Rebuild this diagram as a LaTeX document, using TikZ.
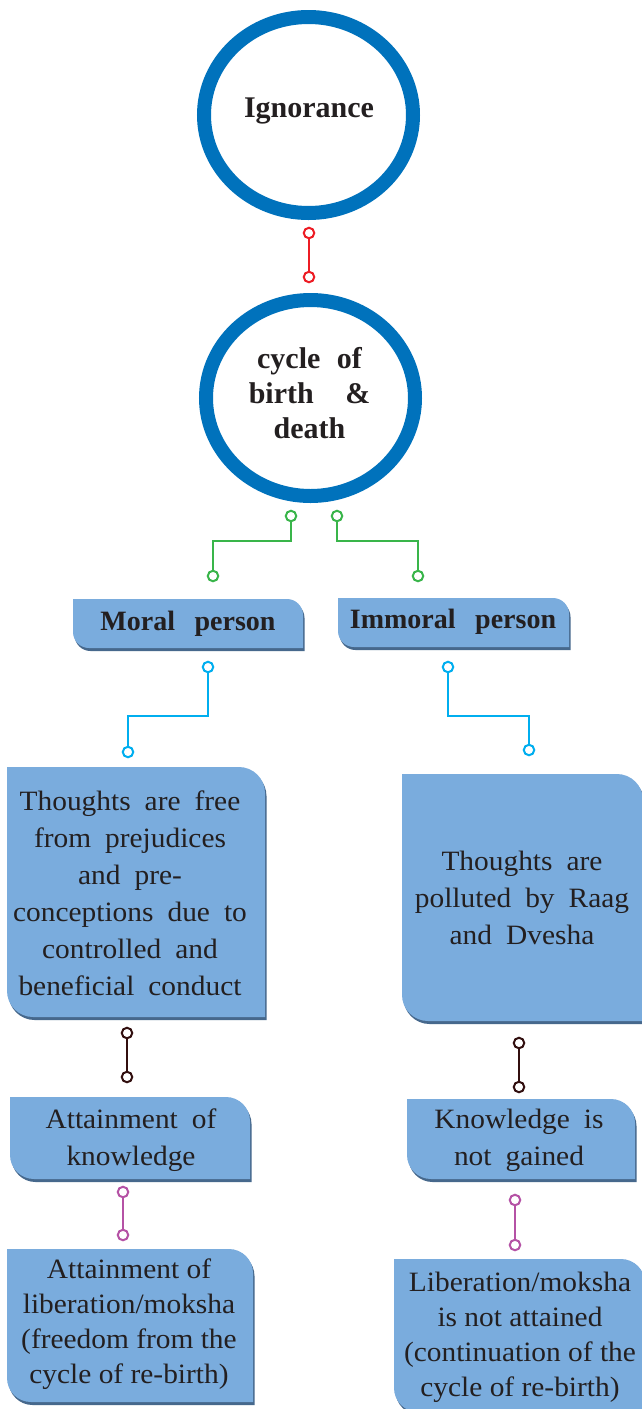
\documentclass[tikz,border=0pt]{standalone}
\usepackage{fontspec}
\setmainfont{Liberation Serif}
\newfontfamily\bodyfont[FakeStretch=1.05]{Liberation Serif}
\usetikzlibrary{calc}
\definecolor{ringblue}{RGB}{0,114,188}
\definecolor{boxfill}{RGB}{122,172,221}
\definecolor{boxshade}{RGB}{70,104,140}
\definecolor{txt}{RGB}{35,31,32}
\definecolor{cred}{RGB}{237,28,36}
\definecolor{cgreen}{RGB}{57,181,74}
\definecolor{ccyan}{RGB}{0,174,239}
\definecolor{cdark}{RGB}{50,15,15}
\definecolor{cmag}{RGB}{181,82,165}
\protected\def\wideheadsp{\spaceskip=0.7em\relax}
\protected\def\widebodysp{\spaceskip=0.5em\relax}
\newcommand{\bluebox}[5]{%
 \fill[boxshade,shift={(1.5,3)}] (#1,#2) -- ({#3-#5},#2) .. controls ({#3-0.45*#5},#2) and (#3,{#2+0.45*#5}) .. (#3,{#2+#5}) -- (#3,#4) -- ({#1+#5},#4) .. controls ({#1+0.45*#5},#4) and (#1,{#4-0.45*#5}) .. (#1,{#4-#5}) -- cycle;
 \fill[boxfill] (#1,#2) -- ({#3-#5},#2) .. controls ({#3-0.45*#5},#2) and (#3,{#2+0.45*#5}) .. (#3,{#2+#5}) -- (#3,#4) -- ({#1+#5},#4) .. controls ({#1+0.45*#5},#4) and (#1,{#4-0.45*#5}) .. (#1,{#4-#5}) -- cycle;
}
\tikzset{
 ring/.style={draw=ringblue, line width=14pt},
 boldtxt/.style={font=\bfseries\fontsize{30}{35}\selectfont, text=txt, align=center, inner sep=0pt},
 headtxt/.style={font=\bfseries\fontsize{28}{32}\selectfont\wideheadsp, text=txt, align=center, inner sep=0pt},
 widetxt/.style={font=\bodyfont\fontsize{28}{37}\selectfont\widebodysp, text=txt, align=center, inner sep=0pt},
 normtxt/.style={font=\bodyfont\fontsize{28}{35}\selectfont, text=txt, align=center, inner sep=0pt},
 endring/.style={circle, draw, fill=white, line width=2pt, inner sep=0pt, minimum size=10.5pt},
 wire/.style={line width=2.4pt},
}
\begin{document}
\begin{tikzpicture}[x=1pt,y=-1pt]
\useasboundingbox (0,0) rectangle (641,1409);
\fill[white] (0,0) rectangle (641,1409);

% circles
\draw[ring] (308.5,115) ellipse [x radius=104.5pt, y radius=98pt];
\node[boldtxt] (ign) at (309,111) {Ignorance};
\draw[ring] (310.5,398) ellipse [x radius=104.5pt, y radius=98pt];
\node[boldtxt] (cyc) at (309.5,393) {cycle\hspace{0.3em} of\\ birth\hspace{0.8em} \&\\ death};

% boxes
\bluebox{73}{599}{303}{648}{16}
\node[headtxt] (moral) at (188,624) {Moral person};
\bluebox{338}{598}{569}{647}{16}
\node[headtxt] (immoral) at (453,622) {Immoral person};

\bluebox{7}{767}{265}{1017}{26}
\node[widetxt] (th1) at (130,893) {Thoughts are free\\ from prejudices\\ and pre-\\ conceptions due to\\ controlled and\\ beneficial conduct};
\bluebox{402}{774}{643}{1021}{26}
\node[widetxt] (th2) at (522,898) {Thoughts are\\ polluted by Raag\\ and Dvesha};

\bluebox{10}{1097}{250}{1179}{24}
\node[widetxt] (kn1) at (131,1140) {Attainment of\\ knowledge};
\bluebox{407}{1099}{635}{1179}{24}
\node[widetxt] (kn2) at (519,1140) {Knowledge is\\ not gained};

\bluebox{7}{1249}{253}{1402}{24}
\node[normtxt] (lib1) at (129,1324) {Attainment of\\ liberation/moksha\\ (freedom from the\\ cycle of re-birth)};
\bluebox{394}{1259}{645}{1412}{24}
\node[normtxt] (lib2) at (520,1337) {Liberation/moksha\\ is not attained\\ (continuation of the\\ cycle of re-birth)};

% connectors
\node[endring, draw=cred] (r1) at (309,233) {};
\node[endring, draw=cred] (r2) at (309,277) {};
\draw[wire, cred] (r1) -- (r2);

\coordinate (gbend) at (0,541);
\node[endring, draw=cgreen] (g1) at (291,516) {};
\node[endring, draw=cgreen] (g2) at (213,576) {};
\node[endring, draw=cgreen] (g3) at (337,516) {};
\node[endring, draw=cgreen] (g4) at (418,576) {};
\draw[wire, cgreen] (g1) -- (g1 |- gbend) -| (g2);
\draw[wire, cgreen] (g3) -- (g3 |- gbend) -| (g4);

\coordinate (cbend) at (0,716);
\node[endring, draw=ccyan] (c1) at (208,667) {};
\node[endring, draw=ccyan] (c2) at (128,752) {};
\node[endring, draw=ccyan] (c3) at (448,667) {};
\node[endring, draw=ccyan] (c4) at (529,750) {};
\draw[wire, ccyan] (c1) -- (c1 |- cbend) -| (c2);
\draw[wire, ccyan] (c3) -- (c3 |- cbend) -| (c4);

\node[endring, draw=cdark] (d1) at (127,1033) {};
\node[endring, draw=cdark] (d2) at (127,1077) {};
\draw[wire, cdark] (d1) -- (d2);
\node[endring, draw=cdark] (d3) at (519,1043) {};
\node[endring, draw=cdark] (d4) at (519,1087) {};
\draw[wire, cdark] (d3) -- (d4);

\node[endring, draw=cmag] (m1) at (123,1192) {};
\node[endring, draw=cmag] (m2) at (123,1235) {};
\draw[wire, cmag] (m1) -- (m2);
\node[endring, draw=cmag] (m3) at (515,1200) {};
\node[endring, draw=cmag] (m4) at (515,1245) {};
\draw[wire, cmag] (m3) -- (m4);
\end{tikzpicture}
\end{document}
